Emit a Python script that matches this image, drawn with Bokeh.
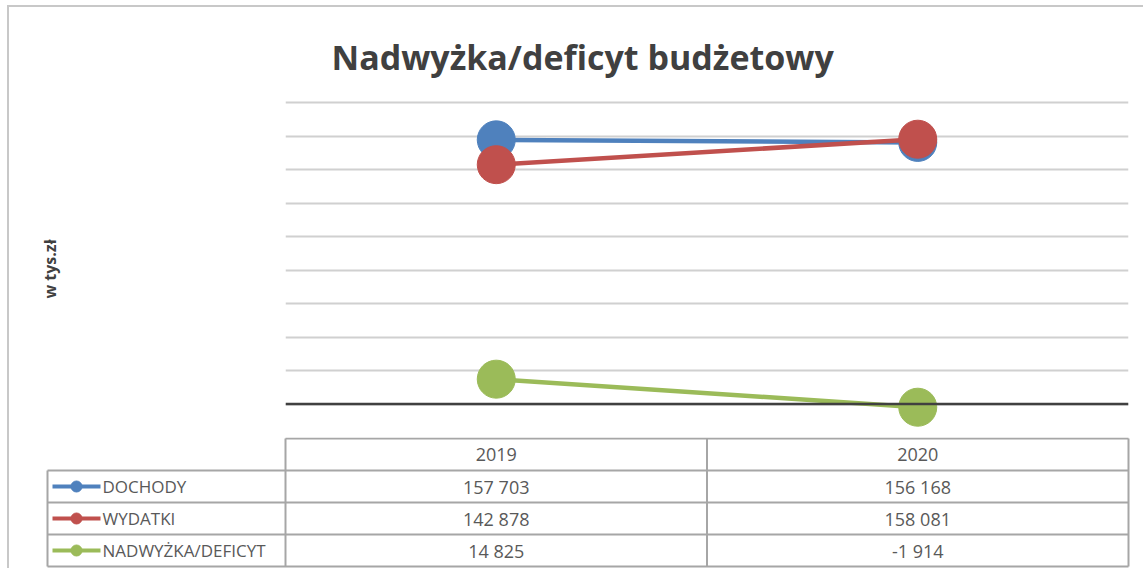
from bokeh.plotting import figure
from bokeh.layouts import column
from bokeh.models import Range1d, FactorRange, FixedTicker, Span, ColumnDataSource
from bokeh.embed import file_html
from bokeh.resources import INLINE
from bokeh.core.properties import value

# ---------------- data ----------------
years = ["2019", "2020"]
series_names = ["DOCHODY", "WYDATKI", "NADWYŻKA/DEFICYT"]
dochody = [157703, 156168]
wydatki = [142878, 158081]
nadwyzka = [14825, -1914]
series_values = [dochody, wydatki, nadwyzka]
colors = ["#4f81bd", "#c0504d", "#9bbb59"]
grid_ticks = [0, 20000, 40000, 60000, 80000, 100000, 120000, 140000, 160000, 180000]
y_min, y_max = -20000, 180000
title_text = "Nadwyżka/deficyt budżetowy"
y_label = "w tys.zł"

FONT = "Open Sans"
ORIGIN_X = 9           # screen x of figures' left edge (margin 7 + border 2)
ORIGIN_Y = 7           # screen y of figures' top edge (margin 5 + border 2)
W = 1134
FRAME_L = 285          # screen x of plot-area left
FRAME_R = 1128         # screen x of plot-area right
FRAME_T = 102
FRAME_B = 437
CAT_W = (FRAME_R - FRAME_L) / len(years)
PAD_PX = 2             # extra pixels above the top gridline so it is not clipped
units_per_px = (y_max - y_min) / (FRAME_B - FRAME_T)

# ---------------- chart ----------------
p = figure(width=W, height=FRAME_B - ORIGIN_Y,
           x_range=FactorRange(*years),
           y_range=Range1d(y_min, y_max + PAD_PX * units_per_px),
           output_backend="svg", toolbar_location=None,
           min_border_left=FRAME_L - ORIGIN_X, min_border_right=W - (FRAME_R - ORIGIN_X),
           min_border_top=FRAME_T - ORIGIN_Y - PAD_PX, min_border_bottom=0)
p.frame_align = False
p.background_fill_color = "white"
p.border_fill_color = "white"
p.outline_line_color = None

p.title.text = title_text
p.title.text_font = FONT
p.title.text_font_size = "34px"
p.title.text_font_style = "bold"
p.title.text_color = "#404040"
p.title.align = "left"
p.title.offset = 46
p.title.standoff = 42

p.xaxis.visible = False
p.xgrid.visible = False
p.ygrid.ticker = FixedTicker(ticks=grid_ticks)
p.ygrid.grid_line_color = "#d0d0d0"
p.ygrid.grid_line_width = 2

ax = p.yaxis[0]
ax.ticker = FixedTicker(ticks=[])
ax.axis_label = y_label
ax.axis_label_text_font = FONT
ax.axis_label_text_font_size = "16px"
ax.axis_label_text_font_style = "bold"
ax.axis_label_text_color = "#404040"
ax.axis_label_standoff = 225
ax.major_label_standoff = 0
ax.major_tick_line_color = None
ax.minor_tick_line_color = None
ax.major_tick_out = 0
ax.axis_line_color = None

p.add_layout(Span(location=0, dimension="width", line_color="#404040", line_width=2.5))

for name, vals, col in zip(series_names, series_values, colors):
    src = ColumnDataSource(dict(x=years, y=vals))
    p.line("x", "y", source=src, line_color=col, line_width=4.5)
    p.scatter("x", "y", source=src, size=38, fill_color=col, line_color=col)

# ---------------- data table ----------------
ROW = 32.0
TH = 131
eps_top = 1.0 / ROW
eps_bot = (TH - 1 - 4 * ROW) / ROW
t = figure(width=W, height=TH,
           x_range=Range1d((ORIGIN_X - FRAME_L) / CAT_W, (ORIGIN_X + W - FRAME_L) / CAT_W),
           y_range=Range1d(4 + eps_bot, -eps_top),
           output_backend="svg", toolbar_location=None,
           min_border_left=0, min_border_right=0, min_border_top=0, min_border_bottom=0)
t.frame_align = False
t.axis.visible = False
t.grid.visible = False
t.outline_line_color = None
t.background_fill_color = "white"
t.border_fill_color = "white"

def sx(screen_x):
    return (screen_x - FRAME_L) / CAT_W

n_cat = len(years)
n_rows = len(series_names)
leg_left = sx(47)
border = "#a6a6a6"

# horizontal lines
hx0 = [0] + [leg_left] * (n_rows + 1)
hx1 = [n_cat] * (n_rows + 2)
hy = [0] + [r + 1 for r in range(n_rows + 1)]
t.segment(x0=hx0, x1=hx1, y0=hy, y1=hy, line_color=border, line_width=2)
# vertical lines
vx = [leg_left] + list(range(n_cat + 1))
vy0 = [1] + [0] * (n_cat + 1)
vy1 = [n_rows + 1] * (n_cat + 2)
t.segment(x0=vx, x1=vx, y0=vy0, y1=vy1, line_color=border, line_width=2)

# header
t.text(x=[i + 0.5 for i in range(n_cat)], y=[0.5] * n_cat, text=years,
       text_font=value(FONT), text_font_size="18px", text_color="#595959",
       text_align="center", text_baseline="middle")

# values
cx, cy, ct = [], [], []
for r, vals in enumerate(series_values):
    for i, v in enumerate(vals):
        cx.append(i + 0.5)
        cy.append(r + 1.5)
        ct.append(f"{v:,}".replace(",", " "))
t.text(x=cx, y=cy, text=ct, text_font=value(FONT), text_font_size="18px",
       text_color="#595959", text_align="center", text_baseline="middle")

# legend keys + names
rows_y = [r + 1.5 for r in range(n_rows)]
t.segment(x0=[sx(52)] * n_rows, x1=[sx(100)] * n_rows, y0=rows_y, y1=rows_y,
          line_color=colors, line_width=4)
t.scatter(x=[sx(76)] * n_rows, y=rows_y, size=11, fill_color=colors, line_color=colors)
t.text(x=[sx(102)] * n_rows, y=rows_y, text=series_names, text_font=value(FONT),
       text_font_size="17px", text_color="#595959", text_align="left",
       text_baseline="middle")

layout = column(p, t, spacing=0,
                styles={"margin-left": "7px", "margin-top": "5px",
                        "border-left": "2px solid #c8c8c8", "border-top": "2px solid #c8c8c8"})

open("out.html", "w").write(file_html(layout, INLINE))
